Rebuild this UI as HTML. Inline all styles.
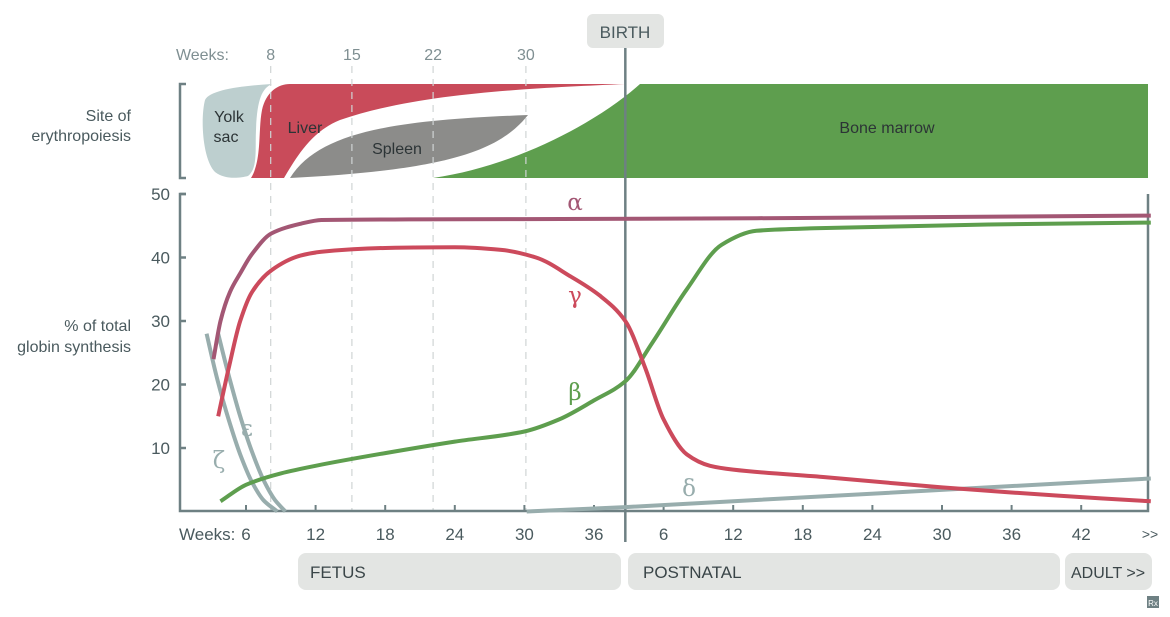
<!DOCTYPE html>
<html><head><meta charset="utf-8"><style>
html,body{margin:0;padding:0;background:#fff;}
svg{display:block;font-family:"Liberation Sans",sans-serif;}
</style></head><body>
<svg id="chart" width="1170" height="617" viewBox="0 0 1170 617">
<g id="top">
 <text x="131" y="121" font-size="16" fill="#4a5a5e" text-anchor="end">Site of</text>
 <text x="131" y="141" font-size="16" fill="#4a5a5e" text-anchor="end">erythropoiesis</text>
 <path d="M186,84 H180 V178 H186" fill="none" stroke="#6e8083" stroke-width="2.5"/>
 <path d="M272,84 C240,86 210,90 205,100 C200,120 203,160 215,172 C225,180 240,178 248,176 C258,168 255,150 256,130 C257,100 262,88 272,84 Z" fill="#bdcfcf"/>
 <path d="M290,84 L625,84 C540,88 420,92 340,120 C310,132 295,160 284,178 L251,178 C262,160 258,130 262,110 C266,92 278,84 290,84 Z" fill="#c94b5a"/>
 <path d="M290,178 C320,130 400,120 528,115 C500,150 450,170 290,178 Z" fill="#8c8c8a"/>
 <path d="M433,178 C520,165 600,120 640,84 L1148,84 L1148,178 Z" fill="#5e9e4e"/>
 <text x="229" y="122" font-size="16" fill="#2c3436" text-anchor="middle">Yolk</text>
 <text x="226" y="142" font-size="16" fill="#2c3436" text-anchor="middle">sac</text>
 <text x="305" y="133" font-size="16" fill="#2c3436" text-anchor="middle">Liver</text>
 <text x="397" y="154" font-size="16" fill="#2c3436" text-anchor="middle">Spleen</text>
 <text x="887" y="133" font-size="16" fill="#2c3436" text-anchor="middle">Bone marrow</text>
 <text x="229" y="60" font-size="16" fill="#7f8f92" text-anchor="end">Weeks:</text>
</g>
<g id="axes"></g>
<g id="series"></g>
<g id="labels">
 <rect x="587" y="14" width="77" height="34" rx="6" fill="#e3e5e3"/>
 <text x="625" y="38" font-size="17" fill="#4a5a5e" text-anchor="middle">BIRTH</text>
 <rect x="298" y="553" width="323" height="37" rx="8" fill="#e3e5e3"/>
 <text x="310" y="578" font-size="17" fill="#3a4548">FETUS</text>
 <rect x="628" y="553" width="432" height="37" rx="8" fill="#e3e5e3"/>
 <text x="643" y="578" font-size="17" fill="#3a4548">POSTNATAL</text>
 <rect x="1065" y="553" width="87" height="37" rx="8" fill="#e3e5e3"/>
 <text x="1071" y="578" font-size="16" fill="#3a4548">ADULT &gt;&gt;</text>
 <rect x="1147" y="596" width="12" height="12" fill="#6e8083"/>
 <text x="1153" y="606" font-size="8" fill="#fff" text-anchor="middle">Rx</text>
</g>
</svg>
<script>
// time axis in weeks: fetal weeks, postnatal week w plotted at 36+w
const yTicks = [10, 20, 30, 40, 50];
const fetalTicks = [6, 12, 18, 24, 30, 36];
const postTicks = [6, 12, 18, 24, 30, 36, 42];
const topWeeks = [8, 15, 22, 30];
const birthWeek = 38.7;
const alphaT = [3.2, 3.8, 4.6, 5.5, 6.5, 8.2, 10.7, 12.5, 20, 40, 60, 84];
const alphaV = [24, 30, 34.5, 37.5, 40.5, 43.8, 45.3, 45.9, 46, 46.1, 46.3, 46.6];
const gammaT = [3.6, 4.5, 5.5, 6.5, 8.2, 10.7, 12.5, 18, 24, 28, 31, 34, 36.5, 38.7, 40.4, 42, 44, 46, 48, 56, 66, 76, 84];
const gammaV = [15, 22.5, 30, 34.5, 38, 40.3, 40.9, 41.5, 41.6, 41.2, 40, 37, 34, 30, 22.7, 14.5, 9, 7.2, 6.6, 5.4, 3.8, 2.5, 1.6];
const betaT = [3.8, 6, 9, 12, 18, 24, 30, 33, 36, 38.7, 41, 44, 47, 50, 55, 70, 84];
const betaV = [1.6, 4.2, 6, 7.2, 9.2, 11, 12.6, 14.5, 17.5, 20.5, 26.5, 35, 42, 44.2, 44.6, 45.2, 45.5];
const epsT = [2.6, 3.5, 4.5, 5.5, 6.5, 7.5, 8.7];
const epsV = [28, 21, 14.5, 9, 4.7, 1.8, 0];
const zetaT = [3.6, 4.5, 5.5, 6.5, 7.5, 8.5, 9.4];
const zetaV = [28, 21.5, 15, 9.5, 5, 1.8, 0];
const deltaT = [30.2, 38.7, 84];
const deltaV = [0, 0.7, 5.2];

const NS = "http://www.w3.org/2000/svg";
function X(t){ return 246 + (t - 6) * 11.6; }
function Y(v){ return 511.5 - v * 6.35; }
function mk(tag, attrs, parent){ const e = document.createElementNS(NS, tag); for (const k in attrs) e.setAttribute(k, attrs[k]); parent.appendChild(e); return e; }
const axes = document.getElementById('axes');
const series = document.getElementById('series');

topWeeks.forEach(w => {
  const x = X(w) + 1.5;
  const l = mk('line', {x1:x, y1:66, x2:x, y2:511, stroke:'#cfd4d4', 'stroke-width':1.2, 'stroke-dasharray':'7,6'}, axes);
  
  
  const tx = mk('text', {x:x, y:60, 'font-size':16, fill:'#7f8f92', 'text-anchor':'middle'}, axes);
  tx.textContent = w;
  
  
});
const ya = mk('path', {d:'M186,194 H180 V511 H1148 V194', fill:'none', stroke:'#6e8083', 'stroke-width':2.5}, axes);


yTicks.forEach(v => {
  const y = Y(v);
  const t = mk('line', {x1:180, x2:186, y1:y, y2:y, stroke:'#6e8083', 'stroke-width':2.5}, axes);
  
  
  const tx = mk('text', {x:170, y:y+6, 'font-size':17, fill:'#4a5a5e', 'text-anchor':'end'}, axes);
  tx.textContent = v;
  
  
});
const yt1 = mk('text', {x:131, y:331, 'font-size':16, fill:'#4a5a5e', 'text-anchor':'end'}, axes);
yt1.textContent = '% of total';


const yt2 = mk('text', {x:131, y:352, 'font-size':16, fill:'#4a5a5e', 'text-anchor':'end'}, axes);
yt2.textContent = 'globin synthesis';


function xtick(t, label){
  const x = X(t);
  const l = mk('line', {x1:x, x2:x, y1:505, y2:511, stroke:'#6e8083', 'stroke-width':2}, axes);
  
  
  const tx = mk('text', {x:x, y:540, 'font-size':17, fill:'#4a5a5e', 'text-anchor':'middle'}, axes);
  tx.textContent = label;
  
  
}
fetalTicks.forEach(w => xtick(w, w));
postTicks.forEach(w => xtick(36 + w, w));
const more = mk('text', {x:1150, y:539, 'font-size':14, fill:'#4a5a5e', 'text-anchor':'middle'}, axes);
more.textContent = '>>';


const wk = mk('text', {x:179, y:540, 'font-size':17, fill:'#4a5a5e'}, axes);
wk.textContent = 'Weeks:';


const bl = mk('line', {x1:X(birthWeek), x2:X(birthWeek), y1:48, y2:542, stroke:'#6e8083', 'stroke-width':2.5}, axes);



// monotone cubic (Fritsch-Carlson) path
function pathFrom(ts, vs){
  const n = ts.length;
  const px = ts.map(X), py = vs.map(Y);
  const d = [], m = new Array(n);
  for (let i = 0; i < n - 1; i++) d.push((py[i+1]-py[i])/(px[i+1]-px[i]));
  m[0] = d[0]; m[n-1] = d[n-2];
  for (let i = 1; i < n - 1; i++){
    if (d[i-1]*d[i] <= 0) m[i] = 0;
    else { const h0 = px[i]-px[i-1], h1 = px[i+1]-px[i]; const w1 = 2*h1+h0, w2 = h1+2*h0; m[i] = (w1+w2)/(w1/d[i-1]+w2/d[i]); }
  }
  let s = 'M' + px[0].toFixed(1) + ',' + py[0].toFixed(1);
  for (let i = 0; i < n - 1; i++){
    const h = (px[i+1]-px[i])/3;
    s += ' C' + (px[i]+h).toFixed(1) + ',' + (py[i]+m[i]*h).toFixed(1) + ' ' + (px[i+1]-h).toFixed(1) + ',' + (py[i+1]-m[i+1]*h).toFixed(1) + ' ' + px[i+1].toFixed(1) + ',' + py[i+1].toFixed(1);
  }
  return s;
}
function line(ts, vs, color, name){
  const e = mk('path', {d:pathFrom(ts, vs), fill:'none', stroke:color, 'stroke-width':4, 'stroke-linecap':'butt'}, series);
  
  
}
line(deltaT, deltaV, '#98adad', 'delta-line');
line(epsT, epsV, '#98adad', 'epsilon-line');
line(zetaT, zetaV, '#98adad', 'zeta-line');
line(betaT, betaV, '#5e9e4e', 'beta-line');
line(gammaT, gammaV, '#cc4a5c', 'gamma-line');
line(alphaT, alphaV, '#a35774', 'alpha-line');

function glabel(txt, x, y, color, name){
  const e = mk('text', {x:x, y:y, 'font-size':23, fill:color, 'text-anchor':'middle', 'font-family':'"DejaVu Serif", "Liberation Serif", serif'}, series);
  e.textContent = txt;
  
  
}
glabel('α', 575, 210, '#a35774', 'alpha-label');
glabel('γ', 575, 303, '#cc4a5c', 'gamma-label');
glabel('β', 575, 400, '#5e9e4e', 'beta-label');
glabel('δ', 689, 496, '#98adad', 'delta-label');
glabel('ε', 247, 436, '#98adad', 'epsilon-label');
glabel('ζ', 219, 468, '#98adad', 'zeta-label');
</script>
</body></html>
